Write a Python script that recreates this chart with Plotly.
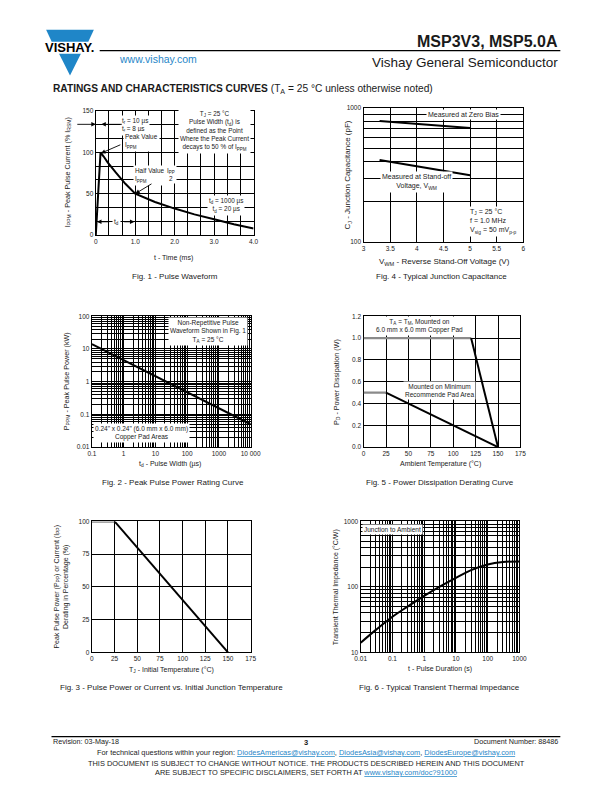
import math
import plotly.graph_objects as go

W, H = 612, 792
FONT = "Liberation Sans"
TXT = "#1a1a1a"
BLUE = "#1f86c8"

# ---------------- data ----------------
# Fig. 1 pulse waveform
pulse_time_ms = [0, 0.12, 0.2, 0.3, 0.5, 0.75, 1.0, 1.5, 2.0, 2.5, 3.0, 3.5, 4.0]
pulse_current_pct = [0, 100, 95, 88, 76, 62, 50, 40, 32, 25, 19, 13, 8]
# Fig. 4 junction capacitance
vwm_volts = [3.3, 5.0]
cap_zero_bias = [800, 710]
cap_standoff = [410, 315]
# Fig. 2 peak pulse power
pulse_width_us = [0.1, 10000]
peak_power_kw = [14, 0.05]
# Fig. 5 power derating
temp_pad = [0, 120, 150]
pd_pad = [1.0, 1.0, 0.0]
temp_min = [0, 25, 150]
pd_min = [0.5, 0.5, 0.0]
# Fig. 3 pulse derating
tj_init = [0, 25, 150]
derating_pct = [100, 100, 0]
# Fig. 6 transient thermal impedance
duration_s = [0.01, 0.03, 0.1, 0.3, 1, 3, 10, 30, 100, 300, 1000]
zth_cw = [14, 22, 35, 50, 73, 100, 137, 180, 220, 240, 245]

# tick labels
fig1_x_vals = [0, 1, 2, 3, 4]
fig1_x_labels = ["0", "1.0", "2.0", "3.0", "4.0"]
fig1_y_vals = [0, 50, 100, 150]
fig1_y_labels = ["0", "50", "100", "150"]
fig4_x_vals = [3, 3.5, 4, 4.5, 5, 5.5, 6]
fig4_x_labels = ["3", "3.5", "4", "4.5", "5", "5.5", "6"]
fig4_y_vals = [100, 1000]
fig4_y_labels = ["100", "1000"]
fig2_x_vals = [0.1, 1, 10, 100, 1000, 10000]
fig2_x_labels = ["0.1", "1", "10", "100", "1000", "10 000"]
fig2_y_vals = [0.01, 0.1, 1, 10, 100]
fig2_y_labels = ["0.01", "0.1", "1", "10", "100"]
derate_x_vals = [0, 25, 50, 75, 100, 125, 150, 175]
derate_x_labels = ["0", "25", "50", "75", "100", "125", "150", "175"]
fig5_y_vals = [0, 0.2, 0.4, 0.6, 0.8, 1.0, 1.2]
fig5_y_labels = ["0.0", "0.2", "0.4", "0.6", "0.8", "1.0", "1.2"]
fig3_y_vals = [0, 25, 50, 75, 100]
fig3_y_labels = ["0", "25", "50", "75", "100"]
fig6_x_vals = [0.01, 0.1, 1, 10, 100, 1000]
fig6_x_labels = ["0.01", "0.1", "1", "10", "100", "1000"]
fig6_y_vals = [10, 100, 1000]
fig6_y_labels = ["10", "100", "1000"]


def fx(x):
    return x / W


def fy(y):
    return 1 - y / H


def lg(v):
    return math.log10(v)


def dom(a, b, top, bottom):
    return [fx(a), fx(b)], [fy(bottom), fy(top)]


def log_minor(d0, d1):
    return [m * 10 ** d for d in range(d0, d1) for m in range(2, 10)]


def axis(domain, rng, typ, vals, txt, anchor, minor_vals=None, size=6.5):
    ax = dict(
        domain=domain, range=rng, type=typ, tickmode="array", tickvals=vals,
        ticktext=txt, showgrid=True, gridcolor="black", gridwidth=0.8,
        showline=True, linecolor="black", linewidth=1.4, mirror=True,
        ticks="", tickfont=dict(family=FONT, size=size, color=TXT),
        zeroline=False, anchor=anchor, fixedrange=True, layer="below traces",
    )
    if minor_vals:
        ax["minor"] = dict(tickmode="array", tickvals=minor_vals, showgrid=True,
                           gridcolor="black", gridwidth=0.8, ticks="")
    return ax


fig = go.Figure()
layout = {}

# ---------- Fig 1 ----------
dx, dy = dom(84, 246, 100, 225)
layout["xaxis"] = axis(dx, [0, 4], "linear", fig1_x_vals, fig1_x_labels, "y",
                       [k / 3 for k in range(13) if k % 3])
layout["yaxis"] = axis(dy, [0, 150], "linear", fig1_y_vals, fig1_y_labels, "x",
                       [k * 50 / 3 for k in range(10) if k % 3])
fig.add_trace(go.Scatter(x=pulse_time_ms, y=pulse_current_pct, mode="lines",
                         line=dict(color="black", width=2), xaxis="x", yaxis="y"))

# ---------- Fig 4 ----------
dx, dy = dom(359, 523, 97, 232)
layout["xaxis2"] = axis(dx, [3, 6], "linear", fig4_x_vals, fig4_x_labels, "y2")
layout["yaxis2"] = axis(dy, [2, 3], "log", fig4_y_vals, fig4_y_labels, "x2", log_minor(2, 3))
fig.add_trace(go.Scatter(x=vwm_volts, y=cap_zero_bias, mode="lines",
                         line=dict(color="black", width=2), xaxis="x2", yaxis="y2"))
fig.add_trace(go.Scatter(x=vwm_volts, y=cap_standoff, mode="lines",
                         line=dict(color="black", width=2), xaxis="x2", yaxis="y2"))

# ---------- Fig 2 ----------
dx, dy = dom(80, 243, 307, 439)
layout["xaxis3"] = axis(dx, [-1, 4], "log", fig2_x_vals, fig2_x_labels, "y3", log_minor(-1, 4))
layout["yaxis3"] = axis(dy, [-2, 2], "log", fig2_y_vals, fig2_y_labels, "x3", log_minor(-2, 2))
fig.add_trace(go.Scatter(x=pulse_width_us, y=peak_power_kw, mode="lines",
                         line=dict(color="black", width=2), xaxis="x3", yaxis="y3"))

# ---------- Fig 5 ----------
dx, dy = dom(359, 520, 307, 439)
layout["xaxis4"] = axis(dx, [0, 175], "linear", derate_x_vals, derate_x_labels, "y4")
layout["yaxis4"] = axis(dy, [0, 1.2], "linear", fig5_y_vals, fig5_y_labels, "x4")
for xs, ys in ((temp_pad, pd_pad), (temp_min, pd_min)):
    fig.add_trace(go.Scatter(x=xs[:2], y=ys[:2], mode="lines",
                             line=dict(color="#8a8a8a", width=2.4), xaxis="x4", yaxis="y4"))
    fig.add_trace(go.Scatter(x=xs[1:], y=ys[1:], mode="lines",
                             line=dict(color="black", width=2), xaxis="x4", yaxis="y4"))

# ---------- Fig 3 ----------
dx, dy = dom(80, 243, 514, 646)
layout["xaxis5"] = axis(dx, [0, 175], "linear", derate_x_vals, derate_x_labels, "y5")
layout["yaxis5"] = axis(dy, [0, 100], "linear", fig3_y_vals, fig3_y_labels, "x5")
fig.add_trace(go.Scatter(x=tj_init[:2], y=derating_pct[:2], mode="lines",
                         line=dict(color="#8a8a8a", width=2.4), xaxis="x5", yaxis="y5"))
fig.add_trace(go.Scatter(x=tj_init[1:], y=derating_pct[1:], mode="lines",
                         line=dict(color="black", width=2), xaxis="x5", yaxis="y5"))

# ---------- Fig 6 ----------
dx, dy = dom(356, 519, 514, 646)
layout["xaxis6"] = axis(dx, [-2, 3], "log", fig6_x_vals, fig6_x_labels, "y6", log_minor(-2, 3))
layout["yaxis6"] = axis(dy, [1, 3], "log", fig6_y_vals, fig6_y_labels, "x6", log_minor(1, 3))
fig.add_trace(go.Scatter(x=duration_s, y=zth_cw, mode="lines", line_shape="spline",
                         line=dict(color="black", width=2), xaxis="x6", yaxis="y6"))

fig.update_traces(showlegend=False, hoverinfo="skip")

anns = []


def note(text, x, y, xref, yref, size=6.5, xanchor="center", align="center",
         bg="white", color=TXT, yanchor="middle", **kw):
    d = dict(text=text, x=x, y=y, xref=xref, yref=yref, showarrow=False,
             font=dict(family=FONT, size=size, color=color), xanchor=xanchor,
             yanchor=yanchor, align=align, borderpad=1)
    if bg:
        d["bgcolor"] = bg
    d.update(kw)
    anns.append(d)


def ptxt(text, x, y, size=7, angle=0, xanchor="center", color=TXT, align="center"):
    anns.append(dict(text=text, x=fx(x), y=fy(y), xref="paper", yref="paper",
                     showarrow=False, textangle=angle, xanchor=xanchor, yanchor="middle",
                     align=align, font=dict(family=FONT, size=size, color=color)))


def arrow(x, y, ax, ay, xref, yref, axref=None, ayref=None):
    d = dict(text="", x=x, y=y, ax=ax, ay=ay, xref=xref, yref=yref, showarrow=True,
             arrowhead=2, arrowsize=1, arrowwidth=0.9, arrowcolor="black")
    if axref:
        d["axref"] = axref
        d["ayref"] = ayref
    anns.append(d)


# Fig 1 annotations
note("T<sub>J</sub> = 25 °C<br>Pulse Width (t<sub>d</sub>) is<br>defined as the Point<br>"
     "Where the Peak Current<br>decays to 50 % of I<sub>PPM</sub>", 3.0, 126, "x", "y", size=6.4)
note("t<sub>r</sub> = 10 µs<br>t<sub>f</sub> = 8 µs", 0.62, 133, "x", "y", size=6.4,
     xanchor="left", align="left")
note("Peak Value<br>I<sub>PPM</sub>", 0.68, 113, "x", "y", size=6.4, xanchor="left", align="left")
arrow(0.13, 99, 0.66, 110, "x", "y", "x", "y")
note("Half Value -<br>I<sub>PPM</sub>", 0.95, 72, "x", "y", size=6.4, xanchor="left", align="left")
note("I<sub>PP</sub><br>2", 1.9, 73, "x", "y", size=6.4)
arrow(1.0, 50, 1.45, 63, "x", "y", "x", "y")
note("t<sub>d</sub> = 1000 µs<br>t<sub>d</sub> = 20 µs", 3.3, 36, "x", "y", size=6.4)
note("t<sub>d</sub>", 0.53, 16, "x", "y", size=6.6)
arrow(0.03, 16, 0.38, 16, "x", "y", "x", "y")
arrow(0.98, 16, 0.68, 16, "x", "y", "x", "y")
arrow(0.0, 134, -20, 0, "x", "y")
arrow(0.14, 134, 22, 0, "x", "y")

# Fig 4 annotations (log y -> log10 positions)
note("Measured at Zero Bias", 4.88, lg(900), "x2", "y2", size=7)
note("Measured at Stand-off<br>Voltage, V<sub>WM</sub>", 4.0, lg(280), "x2", "y2", size=7)
note("T<sub>J</sub> = 25 °C<br>f = 1.0 MHz<br>V<sub>sig</sub> = 50 mV<sub>p-p</sub>",
     4.97, lg(142), "x2", "y2", size=7, xanchor="left", align="left")

# Fig 2 annotations (log axes)
note("Non-Repetitive Pulse<br>Waveform Shown in Fig. 1<br>T<sub>A</sub> = 25 °C",
     lg(450), lg(35), "x3", "y3", size=6.5)
note("0.24\" x 0.24\" (6.0 mm x 6.0 mm)<br>Copper Pad Areas", lg(0.112), lg(0.027),
     "x3", "y3", size=6.5, xanchor="left")

# Fig 5 annotations
note("T<sub>A</sub> = T<sub>M</sub>, Mounted on<br>6.0 mm x 6.0 mm Copper Pad", 62, 1.11,
     "x4", "y4", size=6.5)
note("Mounted on Minimum<br>Recommende Pad Area", 85, 0.52, "x4", "y4", size=6.5)

# Fig 6 annotation
note("Junction to Ambient", lg(0.0108), lg(760), "x6", "y6", size=6.5, xanchor="left")

# axis titles (paper coords, pixels)
ptxt("I<sub>PPM</sub> - Peak Pulse Current (% I<sub>RSM</sub>)", 55, 162, 7.2, -90)
ptxt("t - Time (ms)", 164, 248, 7)
ptxt("C<sub>J</sub> - Junction Capacitance (pF)", 343, 165, 8, -90)
ptxt("V<sub>WM</sub> - Reverse Stand-Off Voltage (V)", 442, 252, 8)
ptxt("P<sub>PPM</sub> - Peak Pulse Power (kW)", 54, 373, 7.2, -90)
ptxt("t<sub>d</sub> - Pulse Width (µs)", 160, 456, 7)
ptxt("P<sub>D</sub> - Power Dissipation (W)", 331, 373, 7.2, -90)
ptxt("Ambient Temperature (°C)", 438, 456, 7)
ptxt("Peak Pulse Power (P<sub>PP</sub>) or Current (I<sub>PP</sub>)<br>Derating in Percentage (%)",
     49, 580, 7, -90)
ptxt("T<sub>J</sub> - Initial Temperature (°C)", 162, 664, 7)
ptxt("Transient Thermal Impedance (°C/W)", 331, 580, 7, -90)
ptxt("t - Pulse Duration (s)", 437, 663, 7)

# captions
ptxt("Fig. 1 - Pulse Waveform", 165, 267, 8)
ptxt("Fig. 4 - Typical Junction Capacitance", 439, 267, 8)
ptxt("Fig. 2 - Peak Pulse Power Rating Curve", 163, 475, 8)
ptxt("Fig. 5 - Power Dissipation Derating Curve", 437, 475, 8)
ptxt("Fig. 3 - Pulse Power or Current vs. Initial Junction Temperature", 162, 682, 8)
ptxt("Fig. 6 - Typical Transient Thermal Impedance", 437, 682, 8)

# header
ptxt("<b>MSP3V3, MSP5.0A</b>", 561, 30, 16, xanchor="right")
ptxt("www.vishay.com", 106, 47, 10.5, xanchor="left", color=BLUE)
ptxt("Vishay General Semiconductor", 561, 51, 13.5, xanchor="right")
ptxt("<b>RATINGS AND CHARACTERISTICS CURVES</b> (T<sub>A</sub> = 25 °C unless otherwise noted)",
     38.5, 78, 10.2, xanchor="left")
ptxt("<b>VISHAY.</b>", 57, 36, 13, color="black")

# footer
ptxt("Revision: 03-May-18", 38.5, 736, 7.2, xanchor="left")
ptxt("<b>3</b>", 300, 737, 7.5)
ptxt("Document Number: 88486", 561, 736, 7.2, xanchor="right")
ptxt("For technical questions within your region: "
     "<span style='color:#1f86c8'><u>DiodesAmericas@vishay.com</u></span>, "
     "<span style='color:#1f86c8'><u>DiodesAsia@vishay.com</u></span>, "
     "<span style='color:#1f86c8'><u>DiodesEurope@vishay.com</u></span>", 300, 747, 7.4)
ptxt("THIS DOCUMENT IS SUBJECT TO CHANGE WITHOUT NOTICE. THE PRODUCTS DESCRIBED HEREIN AND THIS DOCUMENT",
     300, 758, 7.4)
ptxt("ARE SUBJECT TO SPECIFIC DISCLAIMERS, SET FORTH AT "
     "<span style='color:#1f86c8'><u>www.vishay.com/doc?91000</u></span>", 300, 767, 7.4)


def path(points):
    return "M " + " L ".join(f"{fx(a):.5f},{fy(b):.5f}" for a, b in points) + " Z"


shapes = [
    dict(type="path", xref="paper", yref="paper", line=dict(width=0), fillcolor=BLUE,
         path=path([(33, 18), (82, 18), (76.3, 30), (38.7, 30)])),
    dict(type="path", xref="paper", yref="paper", line=dict(width=0), fillcolor=BLUE,
         path=path([(46.3, 42), (68.7, 42), (57.5, 64)])),
    dict(type="line", xref="paper", yref="paper", x0=fx(88), x1=fx(561), y0=fy(39), y1=fy(39),
         line=dict(color="black", width=1.3)),
    dict(type="line", xref="paper", yref="paper", x0=fx(38.5), x1=fx(561), y0=fy(731), y1=fy(731),
         line=dict(color="black", width=1.3)),
    # fraction bar of I_PP / 2 in Fig. 1
    dict(type="line", xref="x", yref="y", x0=1.82, x1=1.98, y0=73, y1=73,
         line=dict(color="black", width=0.8)),
]

fig.update_layout(
    width=W, height=H, margin=dict(l=0, r=0, t=0, b=0, pad=0),
    paper_bgcolor="white", plot_bgcolor="white", showlegend=False,
    font=dict(family=FONT, color=TXT), annotations=anns, shapes=shapes, **layout,
)

fig.write_html("out.html")
